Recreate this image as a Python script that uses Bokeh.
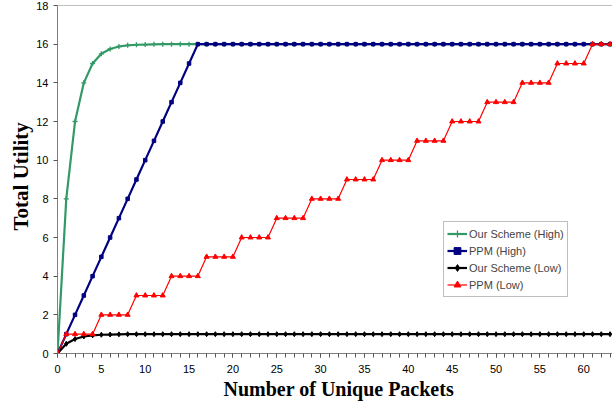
from bokeh.plotting import figure
from bokeh.models import Range1d, FixedTicker, Legend, LegendItem, Title, Span
from bokeh.embed import file_html
from bokeh.resources import INLINE

# ---- data ----
packets = list(range(0, 64))

our_high = [0, 8, 12, 14, 15, 15.5, 15.75, 15.88, 15.94, 15.97, 15.98, 15.99,
            16, 16, 16, 16, 16, 16, 16, 16, 16, 16, 16, 16, 16, 16, 16, 16,
            16, 16, 16, 16, 16, 16, 16, 16, 16, 16, 16, 16, 16, 16, 16, 16,
            16, 16, 16, 16, 16, 16, 16, 16, 16, 16, 16, 16, 16, 16, 16, 16,
            16, 16, 16, 16]

ppm_high = [0, 1, 2, 3, 4, 5, 6, 7, 8, 9, 10, 11, 12, 13, 14, 15,
            16, 16, 16, 16, 16, 16, 16, 16, 16, 16, 16, 16, 16, 16, 16, 16,
            16, 16, 16, 16, 16, 16, 16, 16, 16, 16, 16, 16, 16, 16, 16, 16,
            16, 16, 16, 16, 16, 16, 16, 16, 16, 16, 16, 16, 16, 16, 16, 16]

our_low = [0, 0.5, 0.75, 0.88, 0.94, 0.97, 0.98, 0.99,
           1, 1, 1, 1, 1, 1, 1, 1, 1, 1, 1, 1, 1, 1, 1, 1,
           1, 1, 1, 1, 1, 1, 1, 1, 1, 1, 1, 1, 1, 1, 1, 1,
           1, 1, 1, 1, 1, 1, 1, 1, 1, 1, 1, 1, 1, 1, 1, 1,
           1, 1, 1, 1, 1, 1, 1, 1]

ppm_low = [0,
           1, 1, 1, 1, 2, 2, 2, 2, 3, 3, 3, 3, 4, 4, 4, 4,
           5, 5, 5, 5, 6, 6, 6, 6, 7, 7, 7, 7, 8, 8, 8, 8,
           9, 9, 9, 9, 10, 10, 10, 10, 11, 11, 11, 11, 12, 12, 12, 12,
           13, 13, 13, 13, 14, 14, 14, 14, 15, 15, 15, 15, 16, 16, 16]

x_major_ticks = [0, 5, 10, 15, 20, 25, 30, 35, 40, 45, 50, 55, 60]
y_major_ticks = [0, 2, 4, 6, 8, 10, 12, 14, 16, 18]

series_names = ["Our Scheme (High)", "PPM (High)", "Our Scheme (Low)", "PPM (Low)"]
colors = ["#339966", "#000080", "#000000", "#FF0000"]

# ---- figure ----
p = figure(width=612, height=412, output_backend="svg", toolbar_location=None,
           x_range=Range1d(0, 63.28), y_range=Range1d(0, 18),
           min_border_left=57, min_border_right=0, min_border_top=5,
           min_border_bottom=59)
p.background_fill_color = "white"
p.border_fill_color = "white"
p.outline_line_color = None
p.xgrid.visible = False
p.ygrid.visible = False
p.add_layout(Span(location=18, dimension="width", line_color="#808080", line_width=1))

for ax in (p.xaxis[0], p.yaxis[0]):
    ax.axis_line_color = "#808080"
    ax.major_tick_line_color = "#555555"
    ax.minor_tick_line_color = "#555555"
    ax.major_tick_in = 0
    ax.major_tick_out = 4
    ax.minor_tick_in = 0
    ax.minor_tick_out = 4
    ax.major_label_text_font = "Liberation Sans"
    ax.major_label_text_font_size = "11px"
    ax.major_label_text_color = "#000000"

p.xaxis[0].ticker = FixedTicker(ticks=x_major_ticks, minor_ticks=packets)
p.xaxis[0].major_label_standoff = 7
p.yaxis[0].ticker = FixedTicker(ticks=y_major_ticks, minor_ticks=[])
p.yaxis[0].major_label_standoff = 5

# ---- series ----
l1 = p.line(packets, our_high, line_color=colors[0], line_width=2.2)
m1 = p.scatter(packets, our_high, marker="cross", size=5, line_color=colors[0], line_width=1.3)
l2 = p.line(packets, ppm_high, line_color=colors[1], line_width=2.2)
m2 = p.scatter(packets, ppm_high, marker="square", size=3.5, line_color=colors[1], fill_color=colors[1])
l3 = p.line(packets, our_low, line_color=colors[2], line_width=2.2)
m3 = p.scatter(packets, our_low, marker="diamond", size=5, line_color=colors[2], fill_color=colors[2])
l4 = p.line(packets, ppm_low, line_color=colors[3], line_width=1.2)
m4 = p.scatter(packets, ppm_low, marker="triangle", size=5, line_color=colors[3], fill_color=colors[3])

legend = Legend(items=[
    LegendItem(label=series_names[0], renderers=[l1, m1]),
    LegendItem(label=series_names[1], renderers=[l2, m2]),
    LegendItem(label=series_names[2], renderers=[l3, m3]),
    LegendItem(label=series_names[3], renderers=[l4, m4]),
], location=(386, 56))
legend.label_text_font = "Liberation Sans"
legend.label_text_font_size = "11px"
legend.label_height = 17
legend.glyph_height = 17
legend.glyph_width = 20
legend.label_standoff = 2
legend.spacing = 0
legend.padding = 3
legend.margin = 0
legend.border_line_color = "#808080"
legend.border_line_width = 1
legend.background_fill_color = "white"
legend.background_fill_alpha = 1.0
p.add_layout(legend, "center")

# ---- axis titles ----
xt = Title(text="Number of Unique Packets", align="left", offset=166, standoff=0,
           text_font="Liberation Serif", text_font_size="20px", text_font_style="bold",
           text_color="#000000")
p.add_layout(xt, "below")
yt = Title(text="Total Utility", align="left", offset=123, standoff=2,
           text_font="Liberation Serif", text_font_size="21px", text_font_style="bold",
           text_color="#000000")
p.add_layout(yt, "left")

open("out.html", "w").write(file_html(p, INLINE))
